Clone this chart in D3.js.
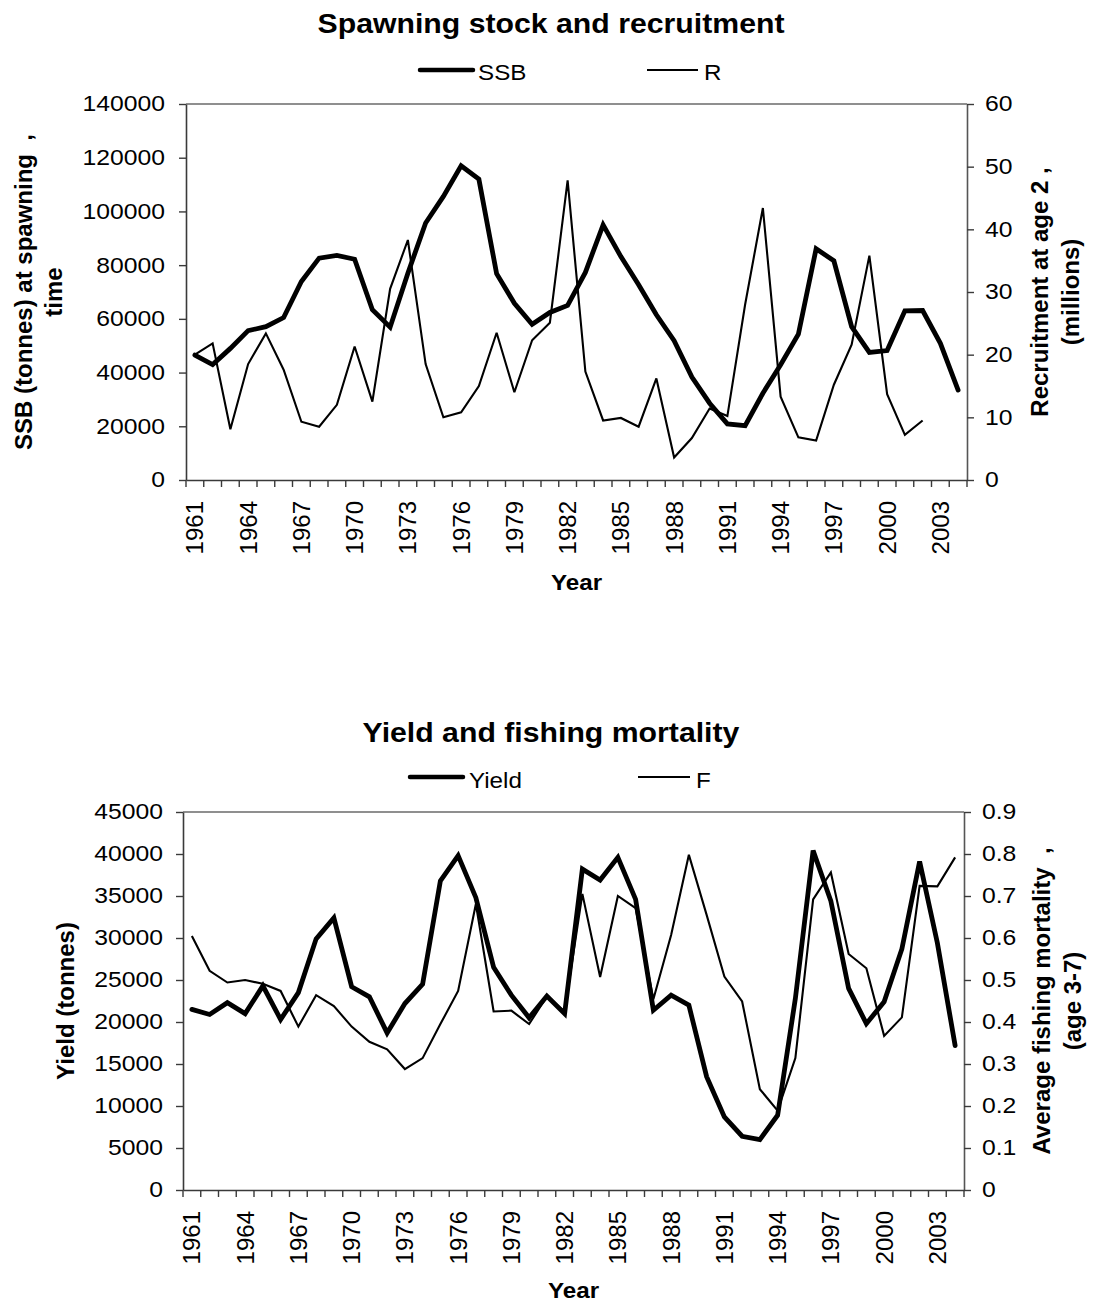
<!DOCTYPE html>
<html>
<head>
<meta charset="utf-8">
<script src="https://cdn.jsdelivr.net/npm/d3@7/dist/d3.min.js"></script>
<style>
  html, body { margin: 0; padding: 0; background: #fff; }
  svg { display: block; }
  text { font-family: "Liberation Sans", Arial, Helvetica, sans-serif; fill: #000; }
</style>
</head>
<body>
<svg id="chart" width="1103" height="1307"></svg>
<script>
// Years 1961-2004
const years = d3.range(1961, 2005);
const yearLabels = years.filter((y, i) => i % 3 === 0);

// Spawning stock biomass (tonnes) at spawning time
const ssb = [46500, 43000, 49000, 55600, 57100, 60500, 73900, 82600, 83600, 82200,
             63400, 56900, 77000, 95700, 105600, 117000, 112000, 76800, 65800, 58000,
             62400, 65000, 77300, 95000, 83200, 72700, 61500, 51900, 38300, 28600,
             20900, 20200, 32300, 42900, 54300, 86100, 81600, 57100, 47500, 48200,
             63000, 63100, 50900, 33500];

// Recruitment at age 2 (millions)
const recruits = [20.0, 21.8, 8.1, 18.5, 23.4, 17.6, 9.3, 8.5, 12.0, 21.3,
                  12.5, 30.5, 38.3, 18.5, 10.0, 10.8, 15.0, 23.5, 14.0, 22.3,
                  25.1, 47.8, 17.3, 9.5, 9.9, 8.5, 16.2, 3.6, 6.7, 11.4,
                  10.2, 28.0, 43.4, 13.3, 6.8, 6.3, 15.2, 21.6, 35.8, 13.7,
                  7.2, 9.5, null, null];

// Yield (tonnes)
const yieldT = [21500, 20900, 22300, 21000, 24300, 20300, 23500, 29900, 32400, 24200,
                23000, 18700, 22200, 24500, 36800, 39800, 34800, 26500, 23200, 20500,
                23100, 21000, 38200, 36900, 39600, 34600, 21400, 23200, 22000, 13500,
                8700, 6400, 6000, 8900, 22800, 40400, 34400, 24000, 19800, 22400,
                28700, 39100, 29400, 17200];

// Average fishing mortality, ages 3-7
const fishingF = [0.605, 0.522, 0.494, 0.500, 0.491, 0.474, 0.389, 0.464, 0.438, 0.389,
                  0.353, 0.335, 0.288, 0.314, 0.395, 0.474, 0.681, 0.425, 0.427, 0.395,
                  0.461, 0.425, 0.705, 0.507, 0.700, 0.671, 0.454, 0.607, 0.798, 0.655,
                  0.508, 0.449, 0.240, 0.189, 0.314, 0.692, 0.756, 0.562, 0.528, 0.367,
                  0.411, 0.724, 0.723, 0.792];

// Axis tick values
const ssbTicks = d3.range(0, 140001, 20000);
const recruitTicks = d3.range(0, 61, 10);
const yieldTicks = d3.range(0, 45001, 5000);
const fTicks = d3.range(0, 10).map(d => d / 10);

const svg = d3.select("#chart");
svg.append("rect").attr("width", 1103).attr("height", 1307).attr("fill", "#fff");

const AXIS_COLOR = "#3a3a3a";
const TEXT_WIDE = 1.15;   // horizontal widening of upright labels

function drawPanel(cfg) {
  const g = svg.append("g");
  const { left, right, top, bottom } = cfg;

  const x = d3.scaleBand().domain(years).range([left, right]).padding(0);
  const bw = x.bandwidth();
  const yL = d3.scaleLinear().domain(cfg.leftDomain).range([bottom, top]);
  const yR = d3.scaleLinear().domain(cfg.rightDomain).range([bottom, top]);

  // top border of the plot area
  g.append("line")
    .attr("x1", left).attr("x2", right).attr("y1", top).attr("y2", top)
    .attr("stroke", "#8f8f8f").attr("stroke-width", 2);

  // left value axis
  const la = g.append("g").attr("transform", `translate(${left},0)`)
    .call(d3.axisLeft(yL).tickValues(cfg.leftTicks).tickSize(7).tickSizeOuter(0)
      .tickPadding(cfg.leftPad).tickFormat(d3.format("d")));
  la.select(".domain").attr("stroke", AXIS_COLOR).attr("stroke-width", 1.6);
  la.selectAll(".tick line").attr("stroke", AXIS_COLOR).attr("stroke-width", 1.4);
  la.selectAll(".tick text")
    .attr("x", -(7 + cfg.leftPad) / TEXT_WIDE)
    .attr("transform", `scale(${TEXT_WIDE},1)`)
    .style("font-size", "21.5px").attr("fill", "#000");

  // right value axis
  const ra = g.append("g").attr("transform", `translate(${right},0)`)
    .call(d3.axisRight(yR).tickValues(cfg.rightTicks).tickSize(7).tickSizeOuter(0)
      .tickPadding(cfg.rightPad).tickFormat(cfg.rightFormat));
  ra.select(".domain").attr("stroke", "#555").attr("stroke-width", 1.6);
  ra.selectAll(".tick line").attr("stroke", AXIS_COLOR).attr("stroke-width", 1.4);
  ra.selectAll(".tick text")
    .attr("x", (7 + cfg.rightPad) / TEXT_WIDE)
    .attr("transform", `scale(${TEXT_WIDE},1)`)
    .style("font-size", "21.5px").attr("fill", "#000");

  // category axis: baseline, boundary ticks, rotated year labels
  const xa = g.append("g").attr("transform", `translate(0,${bottom})`)
    .call(d3.axisBottom(x).tickValues(yearLabels).tickSize(0).tickSizeOuter(0).tickPadding(0));
  xa.select(".domain").attr("stroke", AXIS_COLOR).attr("stroke-width", 1.6);
  xa.selectAll(".tick text")
    .attr("transform", "translate(0,21) rotate(-90)")
    .attr("x", 0).attr("y", 0).attr("dy", "0.35em")
    .attr("text-anchor", "end")
    .style("font-size", "24px").attr("fill", "#000");

  const bounds = years.map(y => x(y)).concat([x(years[years.length - 1]) + bw]);
  g.append("g").selectAll("line").data(bounds).join("line")
    .attr("x1", d => d).attr("x2", d => d)
    .attr("y1", bottom).attr("y2", bottom + 7)
    .attr("stroke", AXIS_COLOR).attr("stroke-width", 1.4);

  // series
  const lineFor = (scale) => d3.line()
    .defined(d => d != null)
    .x((d, i) => x(years[i]) + bw / 2)
    .y(d => scale(d));

  g.append("path").datum(cfg.thinValues)
    .attr("d", lineFor(yR))
    .attr("fill", "none").attr("stroke", "#000").attr("stroke-width", 2.1)
    .attr("stroke-linejoin", "miter").attr("stroke-miterlimit", 3);

  g.append("path").datum(cfg.thickValues)
    .attr("d", lineFor(yL))
    .attr("fill", "none").attr("stroke", "#000").attr("stroke-width", 4.8)
    .attr("stroke-linejoin", "miter").attr("stroke-miterlimit", 2.5)
    .attr("stroke-linecap", "round");

  // chart title
  g.append("text")
    .attr("transform", `translate(551,${cfg.titleY}) scale(1.12,1)`)
    .attr("text-anchor", "middle")
    .style("font-size", "27px").style("font-weight", "bold")
    .text(cfg.title);

  // legend
  const lg = cfg.legend;
  g.append("line").attr("x1", lg.thick[0]).attr("x2", lg.thick[1])
    .attr("y1", lg.lineY).attr("y2", lg.lineY)
    .attr("stroke", "#000").attr("stroke-width", 4.5).attr("stroke-linecap", "round");
  g.append("text")
    .attr("transform", `translate(${lg.thickText},${lg.textY}) scale(1.1,1)`)
    .style("font-size", "22px").text(lg.thickLabel);
  g.append("line").attr("x1", lg.thin[0]).attr("x2", lg.thin[1])
    .attr("y1", lg.lineY).attr("y2", lg.lineY)
    .attr("stroke", "#000").attr("stroke-width", 2);
  g.append("text")
    .attr("transform", `translate(${lg.thinText},${lg.textY}) scale(1.1,1)`)
    .style("font-size", "22px").text(lg.thinLabel);

  // category axis title
  g.append("text")
    .attr("transform", `translate(${(left + right) / 2},${cfg.yearY}) scale(1.1,1)`)
    .attr("text-anchor", "middle")
    .style("font-size", "22px").style("font-weight", "bold")
    .text("Year");

  // value axis titles (rotated, possibly two lines)
  const cy = (top + bottom) / 2;
  cfg.leftTitle.forEach(([txt, bx]) => {
    g.append("text")
      .attr("transform", `translate(${bx},${cy}) rotate(-90)`)
      .attr("text-anchor", "middle")
      .style("font-size", "24px").style("font-weight", "bold")
      .style("white-space", "pre")
      .text(txt);
  });
  cfg.rightTitle.forEach(([txt, bx]) => {
    g.append("text")
      .attr("transform", `translate(${bx},${cy}) rotate(-90)`)
      .attr("text-anchor", "middle")
      .style("font-size", "24px").style("font-weight", "bold")
      .style("white-space", "pre")
      .text(txt);
  });
}

drawPanel({
  left: 186, right: 967, top: 104, bottom: 480,
  leftDomain: [0, 140000], leftTicks: ssbTicks, leftPad: 14,
  rightDomain: [0, 60], rightTicks: recruitTicks, rightPad: 11,
  rightFormat: d3.format("d"),
  thickValues: ssb, thinValues: recruits,
  title: "Spawning stock and recruitment", titleY: 33,
  legend: { lineY: 70, textY: 80, thick: [420, 473], thickText: 478, thickLabel: "SSB",
            thin: [647, 698], thinText: 704, thinLabel: "R" },
  yearY: 590,
  leftTitle: [["SSB (tonnes) at spawning  ,", 32], ["time", 62]],
  rightTitle: [["Recruitment at age 2 ,", 1048], ["(millions)", 1079]]
});

drawPanel({
  left: 183, right: 964, top: 812, bottom: 1190,
  leftDomain: [0, 45000], leftTicks: yieldTicks, leftPad: 13,
  rightDomain: [0, 0.9], rightTicks: fTicks, rightPad: 11,
  rightFormat: d => d === 0 ? "0" : d3.format(".1f")(d),
  thickValues: yieldT, thinValues: fishingF,
  title: "Yield and fishing mortality", titleY: 742,
  legend: { lineY: 777, textY: 788, thick: [410, 463], thickText: 469, thickLabel: "Yield",
            thin: [638, 690], thinText: 696, thinLabel: "F" },
  yearY: 1298,
  leftTitle: [["Yield (tonnes)", 74]],
  rightTitle: [["Average fishing mortality  ,", 1050], ["(age 3-7)", 1081]]
});
</script>
</body>
</html>
